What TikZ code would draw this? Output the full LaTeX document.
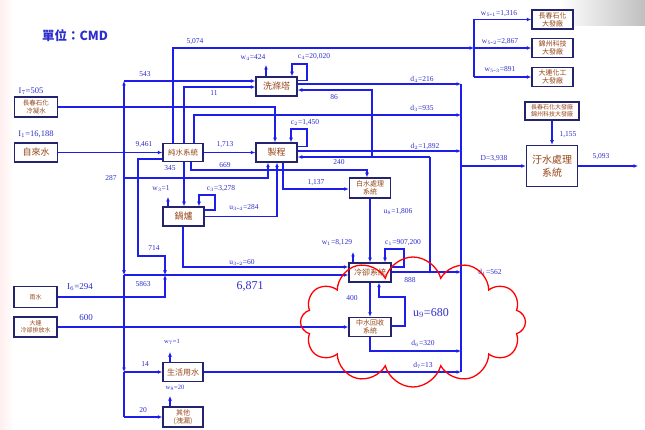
\documentclass[tikz,border=0pt]{standalone}
\usepackage{fontspec}
\setmainfont{Liberation Serif}
\newfontfamily\cjk{Noto Sans CJK TC}
\usetikzlibrary{arrows.meta,shapes.symbols}
\definecolor{flowblue}{RGB}{30,30,235}
\definecolor{boxnavy}{RGB}{35,35,110}
\definecolor{boxbrown}{RGB}{150,70,25}
\definecolor{labblue}{RGB}{45,45,205}
\tikzset{
  blk/.style={draw=boxnavy,line width=1.5pt,fill=white,text=boxbrown,align=center,
    inner sep=0.5pt,font=\cjk\fontsize{7}{8}\selectfont},
  lab/.style={text=labblue,inner sep=0pt,font=\fontsize{7.5}{8}\selectfont},
  fl/.style={draw=flowblue,line width=1.1pt,-{Latex[length=4.5pt,width=4pt]}},
  ln/.style={draw=flowblue,line width=1.1pt},
}
\begin{document}
\begin{tikzpicture}[x=1pt,y=-1pt]
\useasboundingbox (0,0) rectangle (645,430);
%nen
\shade[left color=pink!25,right color=white] (0,0) rectangle (14,430);
\shade[left color=white,right color=gray!50] (560,0) rectangle (645,26);
\node[text=labblue,font=\cjk\bfseries\fontsize{12.5}{13}\selectfont] (title) at (75,36) {單位：CMD};
%Cac khung
\node[blk,minimum width=43pt,minimum height=20pt,font=\cjk\fontsize{6.5}{7.5}\selectfont] (cond) at (36,107) {長春石化\\冷凝水};
\node[blk,minimum width=43pt,minimum height=19pt,font=\cjk\fontsize{9}{10}\selectfont] (tap) at (36,152.5) {自來水};
\node[blk,minimum width=40pt,minimum height=18pt,font=\cjk\fontsize{7.5}{8}\selectfont] (pure) at (183,152.5) {純水系統};
\node[blk,minimum width=41pt,minimum height=19pt,font=\cjk\fontsize{9}{10}\selectfont] (scrub) at (276.5,86.5) {洗滌塔};
\node[blk,minimum width=41pt,minimum height=19pt,font=\cjk\fontsize{9}{10}\selectfont] (proc) at (276.5,152.5) {製程};
\node[blk,minimum width=41pt,minimum height=19pt,font=\cjk\fontsize{9}{10}\selectfont] (boil) at (183.5,216.5) {鍋爐};
\node[blk,minimum width=41pt,minimum height=20pt] (white) at (370,188) {白水處理\\系統};
\node[blk,minimum width=42pt,minimum height=19pt,font=\cjk\fontsize{8}{9}\selectfont] (cool) at (370,272.5) {冷卻系統};
\node[blk,minimum width=42pt,minimum height=19pt] (recl) at (370,327) {中水回收\\系統};
\node[blk,minimum width=43pt,minimum height=21pt,font=\cjk\fontsize{6}{7}\selectfont] (rain) at (35.5,297) {雨水};
\node[blk,minimum width=43pt,minimum height=20pt,font=\cjk\fontsize{6}{7}\selectfont] (dlc) at (35.5,327) {大連\\冷卻排放水};
\node[blk,minimum width=40pt,minimum height=19pt,font=\cjk\fontsize{8}{9}\selectfont] (dom) at (183,372) {生活用水};
\node[blk,minimum width=40pt,minimum height=20pt] (other) at (183,417) {其他\\(洩漏)};
\node[blk,minimum width=41pt,minimum height=19pt] (ccp) at (552.5,19.5) {長春石化\\大發廠};
\node[blk,minimum width=41pt,minimum height=19pt] (jz) at (552.5,48) {錦州科技\\大發廠};
\node[blk,minimum width=41pt,minimum height=19pt] (dl) at (552.5,77) {大連化工\\大發廠};
\node[blk,minimum width=54pt,minimum height=18pt,font=\cjk\fontsize{6}{7}\selectfont] (ext) at (552,111) {長春石化大發廠\\錦州科技大發廠};
\node[blk,minimum width=51pt,minimum height=41pt,font=\cjk\fontsize{10}{13}\selectfont] (wwt) at (552,166) {汙水處理\\系統};
%Diem re
\coordinate (lbA) at (124,81);
\coordinate (lbC) at (124,107);
\coordinate (lbR) at (124,275);
\coordinate (lb14) at (124,372);
\coordinate (lb20) at (124,417);
\coordinate (p5074) at (173,48);
\coordinate (sp) at (474,48);
\coordinate (p11) at (184,87);
\coordinate (p935) at (194,115);
\coordinate (pc) at (275,107);
\coordinate (d4) at (461,84);
\coordinate (d3) at (461,115);
\coordinate (d2) at (461,151);
\coordinate (d1) at (461,272);
\coordinate (d6) at (461,351);
\coordinate (d7) at (461,372);
\coordinate (q6) at (370,351);
\coordinate (r1) at (430,272);
\coordinate (r2) at (430,157);
\coordinate (r3) at (372,157);
\coordinate (c4a) at (307,64);
\coordinate (c4b) at (292,64);
\coordinate (w4) at (266,65);
\coordinate (c2a) at (307,129);
\coordinate (c2b) at (291,129);
\coordinate (q669a) at (191,170);
\coordinate (q669b) at (367,170);
\coordinate (q287a) at (124,178);
\coordinate (q287b) at (268,178);
\coordinate (q345) at (184,190);
\coordinate (q714a) at (138,159);
\coordinate (q714b) at (138,256);
\coordinate (q714c) at (165,256);
\coordinate (q714d) at (165,275);
\coordinate (q284) at (277,216.5);
\coordinate (c3a) at (215,195);
\coordinate (c3b) at (199,195);
\coordinate (w3) at (168,197);
\coordinate (q1137) at (283,189);
\coordinate (q60) at (183,267);
\coordinate (w1) at (353,252);
\coordinate (c1a) at (404,249);
\coordinate (c1b) at (385,249);
\coordinate (u9a) at (405,326);
\coordinate (u9b) at (405,297);
\coordinate (u9c) at (379,297);
\coordinate (w7) at (170,352);
\coordinate (w8) at (170,396);
\coordinate (out) at (638,166);
%Duong di phia tren
\draw[fl] (pure.north -| p5074) -- (p5074) -- (sp);
\draw[ln] (sp |- ccp) -- (sp |- dl);
\draw[fl] (sp |- ccp) -- (ccp);
\draw[fl] (sp) -- (jz);
\draw[fl] (sp |- dl) -- (dl);
\draw[fl] (cond) -- (pc) -- (proc.north -| pc);
\draw[fl] (lbC) -- (lbA);
\draw[fl] (lbA) -- (scrub.west |- lbA);
\draw[fl] (pure.north -| p11) |- (scrub.west |- p11);
\draw[fl] (pure.north -| p935) |- (d3);
\draw[fl] (scrub.east |- d4) -- (d4);
\draw[fl] (proc.east |- d2) -- (d2);
\draw[fl] ([yshift=6pt]scrub.east) -| (c4a) -- (c4b) -- (scrub.north -| c4b);
\draw[fl] (scrub.north -| w4) -- (w4);
\draw[fl] ([yshift=6pt]proc.east) -| (c2a) -- (c2b) -- (proc.north -| c2b);
%Hoi luu 240, 86
\draw[ln] (r1) -- (r2);
\draw[fl] (r2) -- (proc.east |- r2);
\draw[fl] (r3) |- ([yshift=-3.5pt]scrub.east);
%Thu gom D
\draw[ln] (d4) -- (d7);
\draw[fl] (d4 |- wwt) -- (wwt);
\draw[fl] (ext) -- (wwt);
\draw[fl] (wwt) -- (out);
%Thuan thuy, noi hoi
\draw[fl] (tap) -- (pure);
\draw[fl] (pure) -- (proc);
\draw[fl] (pure.south -| q669a) -- (q669a) -- (q669b) -- (white.north -| q669b);
\draw[fl] (q287a) -- (q287b) -- (proc.south -| q287b);
\draw[fl] (pure.south -| q345) -- (boil.north -| q345);
\draw[fl] (pure.west |- q714a) -- (q714a) -- (q714b) -- (q714c) -- (q714d);
\draw[fl] (rain.east) -| (q714d);
\draw[fl] (boil.east |- q284) -- (q284) -- (proc.south -| q284);
\draw[fl] ([yshift=6.5pt]boil.east) -| (c3a) -- (c3b) -- (boil.north -| c3b);
\draw[fl] (boil.north -| w3) -- (w3);
\draw[fl] (proc.south -| q1137) -- (q1137) -- (white.west |- q1137);
\draw[fl] (boil.south -| q60) -- (q60) -- (cool.west |- q60);
%Truc trai
\draw[fl] (lbC) -- (lbR);
\draw[fl] (lbR) -- (lb14);
\draw[ln] (lb14) -- (lb20);
\draw[fl] (lbR) -- (cool.west |- lbR);
\draw[fl] (lb14) -- (dom);
\draw[fl] (lb20) -- (other);
\draw[fl] (dom.north -| w7) -- (w7);
\draw[fl] (other.north -| w8) -- (w8);
\draw[fl] (dom) -- (d7);
%Lam mat
\draw[fl] (white) -- (cool);
\draw[fl] (cool.north -| w1) -- (w1);
\draw[fl] ([yshift=5.5pt]cool.east) -| (c1a) -- (c1b) -- (cool.north -| c1b);
\draw[fl] (cool.east |- d1) -- (d1);
\draw[fl] (cool) -- (recl);
\draw[fl] (recl.east |- u9a) -- (u9a) -- (u9b) -- (u9c) -- (cool.south -| u9c);
\draw[fl] (recl.south -| q6) -- (q6) -- (d6);
\draw[fl] (dlc) -- (recl);
%Cham noi
\foreach \p in {(124,107),(173,81),(173,107),(184,107),(138,178),(184,178),
  (124,297),(124,327),(372,115),(372,151),(430,272),(124,152)}
  \fill[flowblue] \p circle (1.4pt);
%Nhan
\node[lab,font=\fontsize{8.5}{9}\selectfont] (tI7) at (31,91) {I$_7$=505};
\node[lab,font=\fontsize{8.5}{9}\selectfont] (tI1) at (36,134) {I$_1$=16,188};
\node[lab] (t5074) at (195,42) {5,074};
\node[lab] (t543) at (145,74) {543};
\node[lab] (t11) at (214,93) {11};
\node[lab] (tw4) at (253,58) {w$_4$=424};
\node[lab] (tc4) at (314,57) {c$_4$=20,020};
\node[lab] (t86) at (334,97) {86};
\node[lab] (td4) at (422,79) {d$_4$=216};
\node[lab] (td3) at (422,108) {d$_3$=935};
\node[lab] (td2) at (425,146) {d$_2$=1,892};
\node[lab] (tD) at (494,159) {D=3,938};
\node[lab] (t5093) at (601,157) {5,093};
\node[lab] (t1155) at (568,135) {1,155};
\node[lab] (tw51) at (499,14) {w$_{5\mbox{-}1}$=1,316};
\node[lab] (tw52) at (500,42) {w$_{5\mbox{-}2}$=2,867};
\node[lab] (tw53) at (500,70) {w$_{5\mbox{-}3}$=891};
\node[lab] (t9461) at (144,145) {9,461};
\node[lab] (t1713) at (225,145) {1,713};
\node[lab] (tc2) at (305,123) {c$_2$=1,450};
\node[lab] (t345) at (170,168) {345};
\node[lab] (t669) at (225,165) {669};
\node[lab] (t240) at (339,162) {240};
\node[lab] (t287) at (111,178) {287};
\node[lab] (tw3) at (161,189) {w$_3$=1};
\node[lab] (tc3) at (221,189) {c$_3$=3,278};
\node[lab] (tu34) at (244,208) {u$_{3\mbox{-}4}$=284};
\node[lab] (t1137) at (316,183) {1,137};
\node[lab] (tu8) at (398,212) {u$_8$=1,806};
\node[lab] (tw1) at (337,243) {w$_1$=8,129};
\node[lab] (tc1) at (403,243) {c$_1$=907,200};
\node[lab] (t714) at (154,248) {714};
\node[lab] (tu32) at (242,263) {u$_{3\mbox{-}2}$=60};
\node[lab,font=\fontsize{12}{13}\selectfont] (t6871) at (250,286) {6,871};
\node[lab] (t5863) at (143,284) {5863};
\node[lab,font=\fontsize{9}{10}\selectfont] (tI6) at (80,287) {I$_6$=294};
\node[lab,font=\fontsize{9}{10}\selectfont] (t600) at (86,318) {600};
\node[lab] (t888) at (410,280) {888};
\node[lab] (td1) at (490,272) {d$_1$=562};
\node[lab] (t400) at (352,298) {400};
\node[lab,font=\fontsize{12}{13}\selectfont] (tu9) at (431,313) {u$_9$=680};
\node[lab] (td6) at (423,343) {d$_6$=320};
\node[lab] (td7) at (423,365) {d$_7$=13};
\node[lab,font=\fontsize{6.5}{7}\selectfont] (tw7) at (172,342) {w$_7$=1};
\node[lab] (t14) at (145,364) {14};
\node[lab,font=\fontsize{6.5}{7}\selectfont] (tw8) at (175,388) {w$_8$=20};
\node[lab] (t20) at (143,410) {20};
%Dam may
\node[cloud,cloud puffs=12,cloud ignores aspect,draw=red,line width=1.3pt,
  minimum width=225pt,minimum height=130pt] (cld) at (413,322) {};
\end{tikzpicture}
\end{document}
